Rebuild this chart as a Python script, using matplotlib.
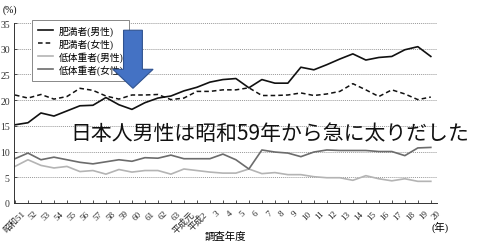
import matplotlib
matplotlib.use('Agg')
from matplotlib import pyplot as plt
from matplotlib.patches import FancyArrow
from matplotlib.transforms import ScaledTranslation

plt.rcParams['font.family'] = ['Liberation Serif', 'Noto Sans CJK JP', 'DejaVu Sans']

years = ['昭和51', '52', '53', '54', '55', '56', '57', '58', '59', '60', '61', '62', '63',
         '平成元', '平成2', '3', '4', '5', '6', '7', '8', '9', '10', '11', '12', '13', '14',
         '15', '16', '17', '18', '19', '20']

obese_male = [15.2, 15.6, 17.5, 16.9, 17.9, 18.9, 19.0, 20.5, 19.1, 18.2, 19.5, 20.4, 20.8,
              21.8, 22.5, 23.5, 24.0, 24.2, 22.4, 24.0, 23.3, 23.3, 26.4, 25.9, 26.9, 28.0,
              29.0, 27.8, 28.3, 28.5, 29.8, 30.4, 28.5]
obese_female = [21.0, 20.4, 21.1, 20.2, 20.7, 22.3, 21.9, 20.8, 20.2, 21.0, 21.0, 21.1, 20.1,
                20.4, 21.7, 21.7, 22.0, 22.0, 22.4, 20.9, 20.9, 21.0, 21.4, 20.9, 21.2, 21.7,
                23.2, 22.0, 20.7, 22.0, 21.2, 20.1, 20.6]
under_male = [7.1, 8.4, 7.3, 6.8, 7.1, 6.1, 6.3, 5.6, 6.5, 6.0, 6.3, 6.3, 5.6,
              6.6, 6.3, 6.0, 5.8, 5.8, 6.6, 5.7, 5.9, 5.5, 5.5, 5.1, 4.9, 4.9,
              4.4, 5.3, 4.7, 4.3, 4.7, 4.2, 4.2]
under_female = [8.6, 9.7, 8.4, 8.9, 8.4, 7.9, 7.6, 8.0, 8.4, 8.1, 8.8, 8.7, 9.3,
                8.6, 8.6, 8.6, 9.5, 8.4, 6.6, 10.3, 9.9, 9.7, 9.0, 9.9, 10.3, 10.2,
                10.2, 10.2, 10.0, 10.0, 9.2, 10.7, 10.8]

series_labels = ['肥満者(男性)', '肥満者(女性)', '低体重者(男性)', '低体重者(女性)']
message = '日本人男性は昭和59年から急に太りだした'


def main():
    fig = plt.figure(figsize=(4.8, 2.53), dpi=100)
    ax = fig.add_axes([0.029, 0.194, 0.881, 0.711])
    x = list(range(len(years)))

    ax.plot(x, obese_male, color='#111111', lw=1.2, label=series_labels[0])
    ax.plot(x, obese_female, color='#111111', lw=1.1, ls=(0, (3, 2)), label=series_labels[1])
    ax.plot(x, under_male, color='#b4b4b4', lw=1.2, label=series_labels[2])
    ax.plot(x, under_female, color='#6c6c6c', lw=1.2, label=series_labels[3])

    ax.set_xlim(-0.08, 32.46)
    ax.set_ylim(0, 35)
    ax.set_yticks(range(0, 36, 5))
    ax.set_xticks(x)
    ax.set_xticklabels([])
    # tick labels drawn by hand so they can sit a little right of each tick
    label_trans = ax.get_xaxis_transform() + ScaledTranslation(6 / 100, -6 / 100,
                                                               fig.dpi_scale_trans)
    for i, lab in enumerate(years):
        ax.text(i, 0, lab, transform=label_trans, rotation=45, rotation_mode='anchor',
                ha='right', va='top', fontsize=6.5, color='#222222')
    ax.tick_params(axis='both', direction='in', length=2.5, width=0.6, colors='#333333',
                   labelsize=7, pad=2)
    ax.tick_params(axis='y', pad=3)
    for y in range(5, 36, 5):
        ax.axhline(y, color='#999999', lw=0.7, ls=(0, (1, 1)), zorder=0)
    for side in ['top', 'right']:
        ax.spines[side].set_visible(False)
    for side in ['left', 'bottom']:
        ax.spines[side].set_linewidth(0.7)
        ax.spines[side].set_color('#333333')

    leg = ax.legend(loc='upper left', bbox_to_anchor=(0.043, 1.017), borderaxespad=0,
                    fontsize=7, handlelength=1.6, handletextpad=0.5, labelspacing=0.25,
                    borderpad=0.6, fancybox=False, framealpha=1, edgecolor='#888888')
    leg.get_frame().set_linewidth(0.7)

    ax.add_patch(FancyArrow(9.08, 33.6, 0, -11.3, width=1.45, head_width=3.1,
                            head_length=3.7, length_includes_head=True,
                            facecolor='#4472c4', edgecolor='#2f528f', lw=0.8, zorder=10))

    ax.text(4.3, 13.6, message, fontsize=15, va='center', ha='left', color='#111111',
            family=['Noto Sans CJK JP', 'DejaVu Sans'], zorder=11)

    fig.text(0.005, 0.978, '(%)', fontsize=7, va='top', ha='left')
    fig.text(0.47, 0.065, '調査年度', fontsize=7.5, ha='center', va='center')
    fig.text(0.917, 0.1, '(年)', fontsize=7.5, ha='center', va='center')

    fig.savefig('out.png', dpi=100)


if __name__ == '__main__':
    main()
